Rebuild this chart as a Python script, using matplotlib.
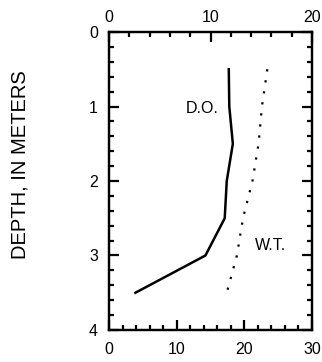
import numpy as np
import matplotlib.pyplot as plt

plt.rcParams['font.family'] = ['Liberation Sans', 'DejaVu Sans']

# depth in meters
depth = [0.5, 1.0, 1.5, 2.0, 2.5, 3.0, 3.5]
# dissolved oxygen (top axis, 0-20)
do_vals = [11.8, 11.85, 12.2, 11.6, 11.4, 9.5, 2.6]
# water temperature (bottom axis, 0-30)
wt_vals = [23.4, 22.6, 22.1, 21.2, 19.8, 18.9, 17.4]

fig = plt.figure(figsize=(3.22, 3.62), dpi=100)
ax = fig.add_axes([0.3385, 0.0884, 0.6305, 0.8232])

ax.plot(wt_vals, depth, color='black', linestyle=(0, (1, 4)), linewidth=1.6)
ax.set_xlim(0, 30)
ax.set_ylim(4, 0)
ax.set_xticks([0, 10, 20, 30])
ax.set_xticks(np.arange(0, 31, 2), minor=True)
ax.set_yticks([0, 1, 2, 3, 4])
ax.set_yticks(np.arange(0, 4.01, 0.2), minor=True)

ax2 = ax.twiny()
ax2.plot(do_vals, depth, color='black', linewidth=1.8)
ax2.set_xlim(0, 20)
ax2.set_ylim(4, 0)
ax2.set_xticks([0, 10, 20])
ax2.set_xticks(np.arange(0, 21, 2), minor=True)

for a in (ax, ax2):
    for s in a.spines.values():
        s.set_linewidth(1.6)
ax.tick_params(which='major', direction='in', length=7, width=1.6,
               labelsize=11.5, right=True)
ax.tick_params(which='minor', direction='in', length=3.5, width=1.6, right=True)
ax.tick_params(axis='x', which='major', pad=9)
ax.tick_params(axis='y', which='major', pad=8)
ax2.tick_params(which='major', direction='in', length=7, width=1.6,
                labelsize=11.5, pad=5)
ax2.tick_params(which='minor', direction='in', length=3.5, width=1.6)

ax.text(13.7, 1.03, 'D.O.', fontsize=11.5, ha='center', va='center')
ax.text(23.9, 2.87, 'W.T.', fontsize=11.5, ha='center', va='center')

fig.text(0.062, 0.545, 'DEPTH, IN METERS', rotation=90, fontsize=14.5,
         ha='center', va='center')

fig.savefig('out.png', dpi=100)
